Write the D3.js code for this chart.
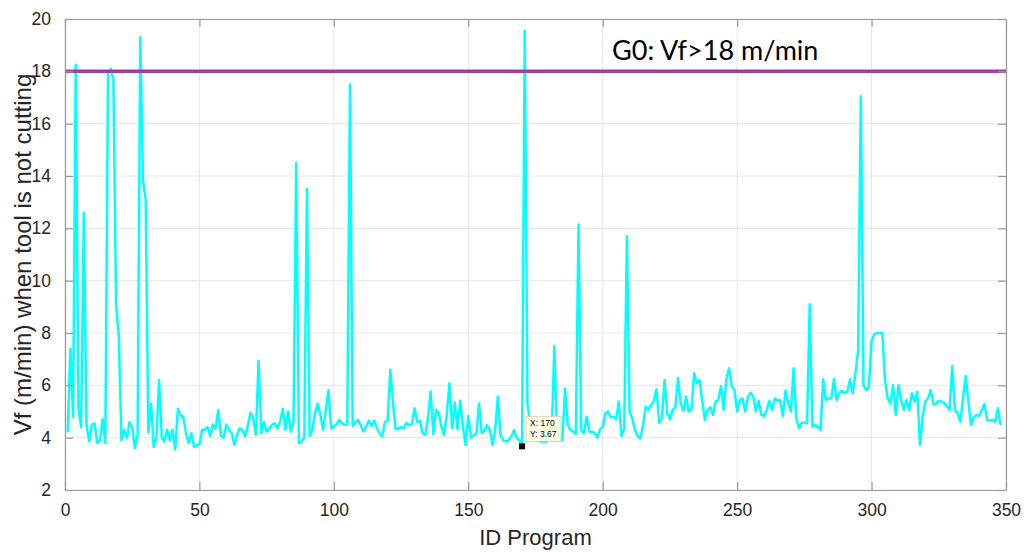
<!DOCTYPE html>
<html>
<head>
<meta charset="utf-8">
<script src="https://cdn.jsdelivr.net/npm/d3@7"></script>
<style>
	body { margin: 0; background: #fff; }
	text { font-family: "Liberation Sans", Arial, sans-serif; fill: #262626; }
</style>
</head>
<body>
<svg id="chart" width="1024" height="552"></svg>
<script>
// Vf (m/min) when tool is not cutting, one value per program ID (1..348)
const vf = [
	4.2, 7.4, 4.8, 18.25, 5.1, 4.4, 12.6, 4.5, 3.85, 4.5,
	4.55, 3.8, 3.9, 4.7, 3.8, 17.9, 18.1, 17.7, 9.1, 7.9,
	3.9, 4.3, 4.0, 4.6, 4.4, 3.6, 4.1, 19.3, 13.85, 13.1,
	4.2, 5.3, 3.65, 4.0, 6.2, 4.0, 3.85, 4.3, 3.9, 4.3,
	3.55, 5.1, 4.85, 4.8, 4.17, 3.8, 4.17, 3.65, 3.7, 3.75,
	4.3, 4.3, 4.4, 4.07, 4.5, 4.35, 5.05, 4.07, 4.0, 4.5,
	4.3, 4.17, 3.72, 4.1, 4.35, 4.3, 4.04, 4.48, 4.95, 4.74,
	4.1, 6.94, 4.17, 4.6, 4.23, 4.35, 4.5, 4.55, 4.35, 4.6,
	5.1, 4.3, 5.0, 4.23, 4.6, 14.5, 3.8, 3.85, 4.0, 13.5,
	4.06, 4.3, 4.95, 5.3, 4.87, 4.3, 5.06, 5.82, 4.36, 4.42,
	4.52, 4.68, 4.57, 4.48, 4.5, 17.5, 4.45, 4.6, 4.68, 4.48,
	4.23, 4.42, 4.65, 4.45, 4.65, 4.36, 4.17, 4.04, 4.6, 4.65,
	6.6, 5.3, 4.32, 4.36, 4.4, 4.36, 4.57, 4.48, 4.52, 5.12,
	4.6, 4.65, 4.17, 4.1, 4.74, 5.76, 4.14, 5.06, 4.95, 4.42,
	4.1, 4.87, 6.08, 4.36, 5.34, 4.32, 5.41, 4.42, 3.72, 4.83,
	4.0, 4.1, 4.14, 5.31, 4.17, 4.27, 4.48, 4.29, 3.72, 4.29,
	5.57, 4.1, 3.9, 3.85, 3.9, 4.04, 4.29, 4.0, 3.9, 3.67,
	19.55, 5.3, 4.6, 3.95, 3.9, 3.9, 3.85, 3.85, 3.85, 3.9,
	3.95, 7.5, 4.1, 3.9, 3.9, 5.88, 4.48, 4.29, 4.23, 4.14,
	12.15, 4.3, 4.17, 4.8, 4.23, 4.23, 4.19, 4.0, 4.32, 4.42,
	4.93, 5.0, 4.78, 4.8, 4.7, 5.38, 4.06, 4.36, 11.7, 5.0,
	4.74, 4.29, 4.06, 3.97, 4.48, 5.18, 5.06, 5.25, 5.4, 5.85,
	4.57, 4.74, 6.2, 4.93, 4.7, 5.06, 5.16, 6.27, 5.31, 5.03,
	5.57, 5.0, 5.06, 6.46, 6.08, 6.2, 5.44, 4.68, 5.06, 5.16,
	4.87, 5.38, 5.44, 5.97, 5.06, 6.23, 6.65, 5.97, 5.82, 5.0,
	5.44, 5.5, 5.0, 5.57, 5.72, 5.57, 5.0, 5.41, 4.87, 4.83,
	5.06, 5.41, 5.06, 5.5, 5.41, 5.44, 4.83, 5.8, 5.3, 5.0,
	6.65, 4.74, 4.36, 4.57, 4.57, 4.55, 9.1, 4.42, 4.48, 4.42,
	4.29, 6.23, 5.44, 5.5, 5.5, 6.23, 5.44, 5.7, 5.8, 5.7,
	5.76, 6.23, 5.7, 6.46, 7.35, 17.05, 6.0, 5.82, 5.95, 7.7,
	7.95, 8.0, 8.0, 8.0, 6.2, 5.5, 5.3, 6.0, 4.87, 6.0,
	5.44, 5.06, 5.44, 5.06, 5.7, 5.38, 5.76, 3.72, 4.8, 5.38,
	5.5, 5.82, 5.29, 5.29, 5.41, 5.38, 5.34, 5.21, 5.06, 6.74,
	5.06, 4.93, 4.61, 5.5, 6.36, 5.38, 4.48, 4.78, 4.87, 4.83,
	5.06, 5.29, 4.68, 4.65, 4.68, 4.61, 5.12, 4.48
];

const xTicks = [0, 50, 100, 150, 200, 250, 300, 350];
const yTicks = [2, 4, 6, 8, 10, 12, 14, 16, 18, 20];
const xDomain = [0, 350];
const yDomain = [2, 20];

const g0Level = [18];
const g0Label = "G0: Vf>18 m/min";

// data tip shown on the figure
const tipX = [170];
const tipY = [3.67];

const xLabel = "ID Program";
const yLabel = "Vf (m/min) when tool is not cutting";

const size = { left: 65, right: 1006, top: 19, bottom: 490 };

const svg = d3.select("#chart");

const x = d3.scaleLinear().domain(xDomain).range([size.left, size.right]);
const y = d3.scaleLinear().domain(yDomain).range([size.bottom, size.top]);

const plotW = size.right - size.left;
const plotH = size.bottom - size.top;

// grid
const grid = svg.append("g").attr("class", "grid");
grid.selectAll(".gx").data(xTicks).enter().append("line")
	.attr("x1", d => x(d)).attr("x2", d => x(d))
	.attr("y1", size.top).attr("y2", size.bottom)
	.attr("stroke", "#e6e6e6").attr("stroke-width", 1);
grid.selectAll(".gy").data(yTicks).enter().append("line")
	.attr("x1", size.left).attr("x2", size.right)
	.attr("y1", d => y(d)).attr("y2", d => y(d))
	.attr("stroke", "#e6e6e6").attr("stroke-width", 1);

// clip so lines stay inside the axes box
svg.append("clipPath").attr("id", "plotClip")
	.append("rect").attr("x", size.left).attr("y", size.top)
	.attr("width", plotW).attr("height", plotH);

const plot = svg.append("g").attr("clip-path", "url(#plotClip)");

const line = d3.line()
	.x((d, i) => x(i + 1))
	.y(d => y(d));

plot.append("path")
	.datum(vf)
	.attr("fill", "none")
	.attr("stroke", "#00ffff")
	.attr("stroke-width", 2.5)
	.attr("stroke-linejoin", "round")
	.attr("d", line);

// G0 threshold
plot.selectAll(".g0").data(g0Level).enter().append("line")
	.attr("x1", x(xDomain[0])).attr("x2", x(xDomain[1]))
	.attr("y1", d => y(d)).attr("y2", d => y(d))
	.attr("stroke", "#a03fa3")
	.attr("stroke-width", 3.5);

svg.append("text")
	.attr("x", 612)
	.attr("y", y(18) - 11)
	.style("font-family", "Lato, 'Open Sans', sans-serif")
	.style("font-size", "27px")
	.style("fill", "#000")
	.text(g0Label);

// axes, MATLAB style box with inward ticks
const axisColor = "#9a9a9a";
const tickLen = 8;

const xAxisB = d3.axisBottom(x).tickValues(xTicks).tickSizeInner(-tickLen).tickSizeOuter(0).tickPadding(14);
const xAxisT = d3.axisTop(x).tickValues(xTicks).tickSizeInner(-tickLen).tickSizeOuter(0).tickFormat("");
const yAxisL = d3.axisLeft(y).tickValues(yTicks).tickSizeInner(-tickLen).tickSizeOuter(0).tickPadding(14);
const yAxisR = d3.axisRight(y).tickValues(yTicks).tickSizeInner(-tickLen).tickSizeOuter(0).tickFormat("");

function styleAxis(g) {
	g.select(".domain").attr("stroke", axisColor).attr("stroke-width", 1.2);
	g.selectAll(".tick line").attr("stroke", axisColor).attr("stroke-width", 1.2);
	g.selectAll(".tick text")
		.style("font-family", "'Liberation Sans', Arial, sans-serif")
		.style("font-size", "17.5px")
		.attr("fill", "#262626");
}

svg.append("g").attr("transform", `translate(0,${size.bottom})`).call(xAxisB).call(styleAxis);
svg.append("g").attr("transform", `translate(0,${size.top})`).call(xAxisT).call(styleAxis);
svg.append("g").attr("transform", `translate(${size.left},0)`).call(yAxisL).call(styleAxis);
svg.append("g").attr("transform", `translate(${size.right},0)`).call(yAxisR).call(styleAxis);

// axis labels
svg.append("text")
	.attr("x", (size.left + size.right) / 2)
	.attr("y", 545)
	.attr("text-anchor", "middle")
	.style("font-size", "22px")
	.text(xLabel);

svg.append("text")
	.attr("transform", `translate(31,${(size.top + size.bottom) / 2}) rotate(-90)`)
	.attr("text-anchor", "middle")
	.style("font-size", "24px")
	.text(yLabel);

// data tip
const tip = svg.append("g").attr("class", "datatip");
tip.selectAll("rect.marker").data(tipX).enter().append("rect")
	.attr("class", "marker")
	.attr("x", (d, i) => x(d) - 3)
	.attr("y", (d, i) => y(tipY[i]) - 3)
	.attr("width", 6).attr("height", 6)
	.attr("fill", "#000");

const bx = x(tipX[0]) + 4;
const by = y(tipY[0]) - 30;
tip.append("rect")
	.attr("x", bx).attr("y", by)
	.attr("width", 35).attr("height", 25)
	.attr("fill", "#ffffe6")
	.attr("stroke", "#c8c8b4")
	.attr("stroke-width", 0.8);
tip.append("text")
	.attr("x", bx + 4).attr("y", by + 10)
	.style("font-size", "8.5px").style("fill", "#000")
	.text("X: " + tipX[0]);
tip.append("text")
	.attr("x", bx + 4).attr("y", by + 21)
	.style("font-size", "8.5px").style("fill", "#000")
	.text("Y: " + tipY[0]);
</script>
</body>
</html>
